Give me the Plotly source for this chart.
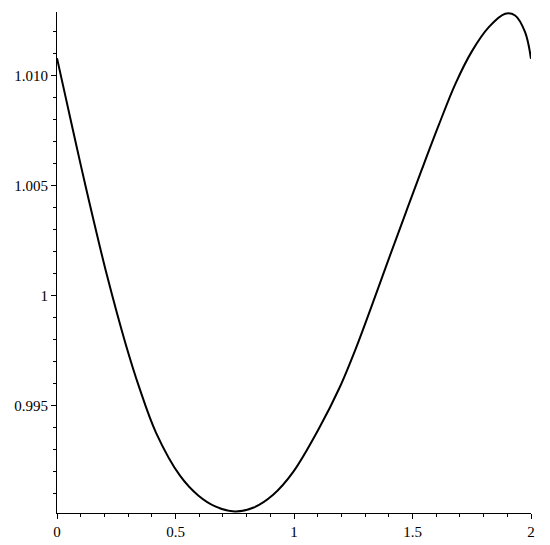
import plotly.graph_objects as go

# values
x_vals = [0.0, 0.039, 0.077, 0.119, 0.161, 0.21, 0.288, 0.348, 0.418, 0.519,
          0.596, 0.67, 0.75, 0.83, 0.912, 0.996, 1.108, 1.192, 1.262, 1.331,
          1.401, 1.471, 1.541, 1.611, 1.681, 1.751, 1.822, 1.891, 1.933, 1.975, 2.0]
y_vals = [1.0108, 1.0089, 1.00705, 1.00505, 1.00312, 1.00095, 0.99785, 0.99578, 0.99375,
          0.99180, 0.99090, 0.99039, 0.99017, 0.99035, 0.99093, 0.99196, 0.99400, 0.99580,
          0.99762, 0.99962, 1.00170, 1.00375, 1.00578, 1.00776, 1.00963, 1.01112, 1.01221,
          1.01282, 1.01274, 1.01198, 1.01077]

x_ticks = [0, 0.5, 1, 1.5, 2]
x_labels = ["0", "0.5", "1", "1.5", "2"]
y_ticks = [0.995, 1.0, 1.005, 1.010]
y_labels = ["0.995", "1", "1.005", "1.010"]

fig = go.Figure()
fig.add_trace(go.Scatter(
    x=x_vals, y=y_vals, mode="lines",
    line=dict(color="black", width=2, shape="spline", smoothing=1),
    showlegend=False,
))

axis_style = dict(
    showgrid=False, zeroline=False, showline=True, linecolor="black", linewidth=1.2,
    ticks="outside", ticklen=5, tickwidth=1, tickcolor="black", automargin=False,
    tickfont=dict(family="Liberation Serif", size=15, color="black"),
)

fig.update_xaxes(
    range=[0, 2], tickvals=x_ticks, ticktext=x_labels,
    minor=dict(dtick=0.1, ticks="outside", ticklen=3, tickcolor="black"),
    **axis_style,
)
fig.update_yaxes(
    range=[0.9901, 1.0129], tickvals=y_ticks, ticktext=y_labels,
    minor=dict(dtick=0.001, ticks="outside", ticklen=3, tickcolor="black"),
    **axis_style,
)

# page body adds an 8px offset, margins account for it
fig.update_layout(
    width=550, height=545,
    margin=dict(l=49, r=27, t=4, b=40),
    plot_bgcolor="white", paper_bgcolor="white",
)

fig.write_html("out.html")
